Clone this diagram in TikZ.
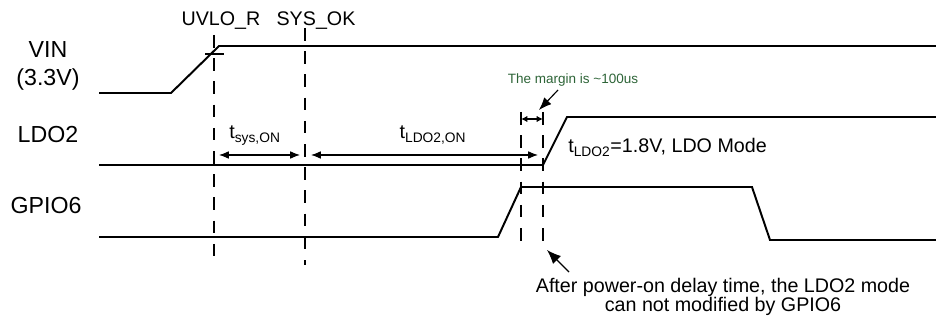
\documentclass[tikz,border=0pt]{standalone}
\usepackage{fontspec}
\setmainfont{Liberation Sans}
\usepackage{xcolor}
\usetikzlibrary{arrows.meta, positioning, calc}
\definecolor{notegreen}{RGB}{45,100,55}

\begin{document}
\begin{tikzpicture}[x=0.025cm, y=-0.025cm,
  signal/.style={line width=1.4pt},
  marker/.style={line width=1pt, dash pattern=on 9pt off 7.5pt},
  timearrow/.style={line width=0.8pt, {Latex[length=7pt,width=5.5pt]}-{Latex[length=7pt,width=5.5pt]}},
  gaparrow/.style={line width=0.8pt, {Latex[length=4.5pt,width=4.5pt]}-{Latex[length=4.5pt,width=4.5pt]}},
  callout/.style={line width=0.8pt, -{Latex[length=9pt,width=7pt]}},
  sig/.style={font=\fontsize{16.5}{19}\selectfont, inner sep=0pt, anchor=base},
  txt/.style={font=\fontsize{14}{14.2}\selectfont, inner sep=0pt, anchor=base}]
  \useasboundingbox (0,0) rectangle (936,320);

  % Signal names
  \node[sig] (vin) at (48,58) {VIN};
  \node[sig] (vinv) at (48,86) {(3.3V)};
  \node[sig] (ldo) at (48,143) {LDO2};
  \node[sig] (gpio) at (46,214) {GPIO6};

  % Waveforms
  \draw[signal] (99,93) -- (171,93) -- (219,46) -- (936,46);
  \draw[signal] (99,165) -- (543,165) -- (567,117) -- (936,117);
  \draw[signal] (99,237) -- (498,237) -- (521,187) -- (752,187) -- (770,240) -- (936,240);

  % Event markers
  \coordinate (uvlotop) at (214,35);
  \coordinate (uvlobot) at (214,265);
  \coordinate (sysoktop) at (305,28);
  \coordinate (sysokbot) at (305,265);
  \coordinate (gpiotop) at (521,112);
  \coordinate (gpiobot) at (521,249);
  \coordinate (ldotop) at (543,112);
  \coordinate (ldobot) at (543,249);
  \draw[marker] (uvlotop) -- (uvlobot);
  \draw[marker] (sysoktop) -- (sysokbot);
  \draw[marker] (gpiotop) -- (gpiobot);
  \draw[marker] (ldotop) -- (ldobot);
  \draw[line width=0.8pt] (205,54) -- (224,54);

  \node[txt] (uvlo) at (221,26) {UVLO\_R};
  \node[txt] (sysok) at (316,26) {SYS\_OK};

  % Timing
  \coordinate (sysA) at (219,155);
  \coordinate (sysB) at (300,155);
  \coordinate (ldoA) at (311,155);
  \coordinate (ldoB) at (538,155);
  \draw[timearrow] (sysA) -- (sysB);
  \draw[timearrow] (ldoA) -- (ldoB);
  \node[txt] (tsys) at (255,139) {t\textsubscript{sys,ON}};
  \node[txt] (tldo) at (433,139) {t\textsubscript{LDO2,ON}};

  \coordinate (gapA) at (521,119);
  \coordinate (gapB) at (543,119);
  \draw[gaparrow] (gapA) -- (gapB);

  \node[txt, anchor=base west] (mode) at (568,153) {t\textsubscript{LDO2}=1.8V, LDO Mode};

  % Notes
  \node[txt, font=\fontsize{9.6}{11}\selectfont, text=notegreen] (margin) at (573,84) {The margin is \textasciitilde100us};
  \coordinate (marginarr) at (558,90);
  \coordinate (margintip) at (539,110);
  \draw[callout] (marginarr) -- (margintip);

  \node[txt, align=center] (after) at (723,312) {After power-on delay time, the LDO2 mode\\can not modified by GPIO6};
  \coordinate (afterarr) at (569,272);
  \coordinate (aftertip) at (547,250);
  \draw[callout, -{Latex[length=10pt,width=8pt]}] (afterarr) -- (aftertip);
\end{tikzpicture}
\end{document}
